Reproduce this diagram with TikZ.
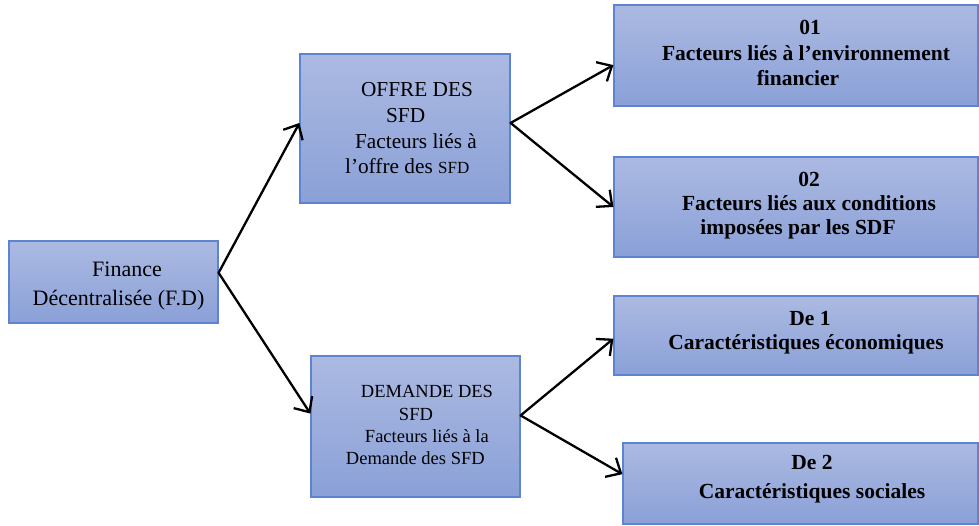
\documentclass[tikz,border=0pt]{standalone}
\usepackage{fontspec}
\setmainfont{Liberation Serif}
\usetikzlibrary{arrows.meta}

\definecolor{boxtop}{RGB}{172,186,226}
\definecolor{boxbot}{RGB}{138,160,215}
\definecolor{boxline}{RGB}{92,132,210}

\tikzset{
  blockbox/.style={draw=boxline, line width=1.2pt, top color=boxtop,
    bottom color=boxbot, inner sep=0pt, minimum width=#1},
  link/.style={line width=2.3pt, line cap=round,
    -{Straight Barb[length=12pt,width=22pt,line width=2.3pt]}},
}
\newcommand{\sfdsc}{{\fontsize{17}{17}\selectfont SFD}}

\begin{document}
\begin{tikzpicture}[x=1pt,y=-1pt]
  \useasboundingbox (0,0) rectangle (979,526);

  % boxes
  \node[blockbox=209pt, minimum height=82pt]  (fd)  at (113.5,282)   {};
  \node[blockbox=210pt, minimum height=149pt] (off) at (405,128.5)   {};
  \node[blockbox=209pt, minimum height=141pt] (dem) at (415.5,426.5) {};
  \node[blockbox=364pt, minimum height=101pt] (f1)  at (796,55.5)    {};
  \node[blockbox=364pt, minimum height=100pt] (f2)  at (796,207)     {};
  \node[blockbox=364pt, minimum height=79pt]  (d1)  at (796,335.5)   {};
  \node[blockbox=355pt, minimum height=81pt]  (d2)  at (800.5,483.5) {};

  % texts
  \node[inner sep=0pt, align=center, font=\fontsize{22}{29}\selectfont] (fdtxt) at (118.5,286)
    {\rule{17pt}{0pt}Finance\\Décentralisée (F.D)};
  \node[inner sep=0pt, align=left, font=\fontsize{21.3}{25.7}\selectfont] (offtxt) at (411,128.5)
    {\rule{16pt}{0pt}OFFRE DES\\\rule{41pt}{0pt}SFD\\\rule{10pt}{0pt}Facteurs liés à\\l’offre des \sfdsc};
  \node[inner sep=0pt, align=left, font=\fontsize{18.5}{22.3}\selectfont] (demtxt) at (419.5,425.4)
    {\rule{15pt}{0pt}DEMANDE DES\\\rule{53pt}{0pt}SFD\\\rule{19pt}{0pt}Facteurs liés à la\\Demande des SFD};
  \node[inner sep=0pt, align=center, font=\bfseries\fontsize{21.5}{25.5}\selectfont] (f1txt) at (806,53)
    {\rule{8pt}{0pt}01\\Facteurs liés à l’environnement\\financier\rule{16pt}{0pt}};
  \node[inner sep=0pt, align=center, font=\bfseries\fontsize{21.5}{24}\selectfont] (f2txt) at (809,206)
    {02\\Facteurs liés aux conditions\\imposées par les SDF\rule{22pt}{0pt}};
  \node[inner sep=0pt, align=center, font=\bfseries\fontsize{21.5}{24}\selectfont] (d1txt) at (806,333)
    {\rule{8pt}{0pt}De 1\\Caractéristiques économiques};
  \node[inner sep=0pt, align=center, font=\bfseries\fontsize{21.5}{29}\selectfont] (d2txt) at (812,479)
    {De 2\\Caractéristiques sociales};

  % connectors
  \draw[link] (fd.5)    -- (off.177);
  \draw[link] (fd.5)    -- (dem.173.7);
  \draw[link] (off.3.5) -- (f1.183.6);
  \draw[link] (off.3.5) -- (f2.west);
  \draw[link] (dem.6.8) -- (d1.181);
  \draw[link] (dem.6.8) -- (d2.177.3);
\end{tikzpicture}
\end{document}
